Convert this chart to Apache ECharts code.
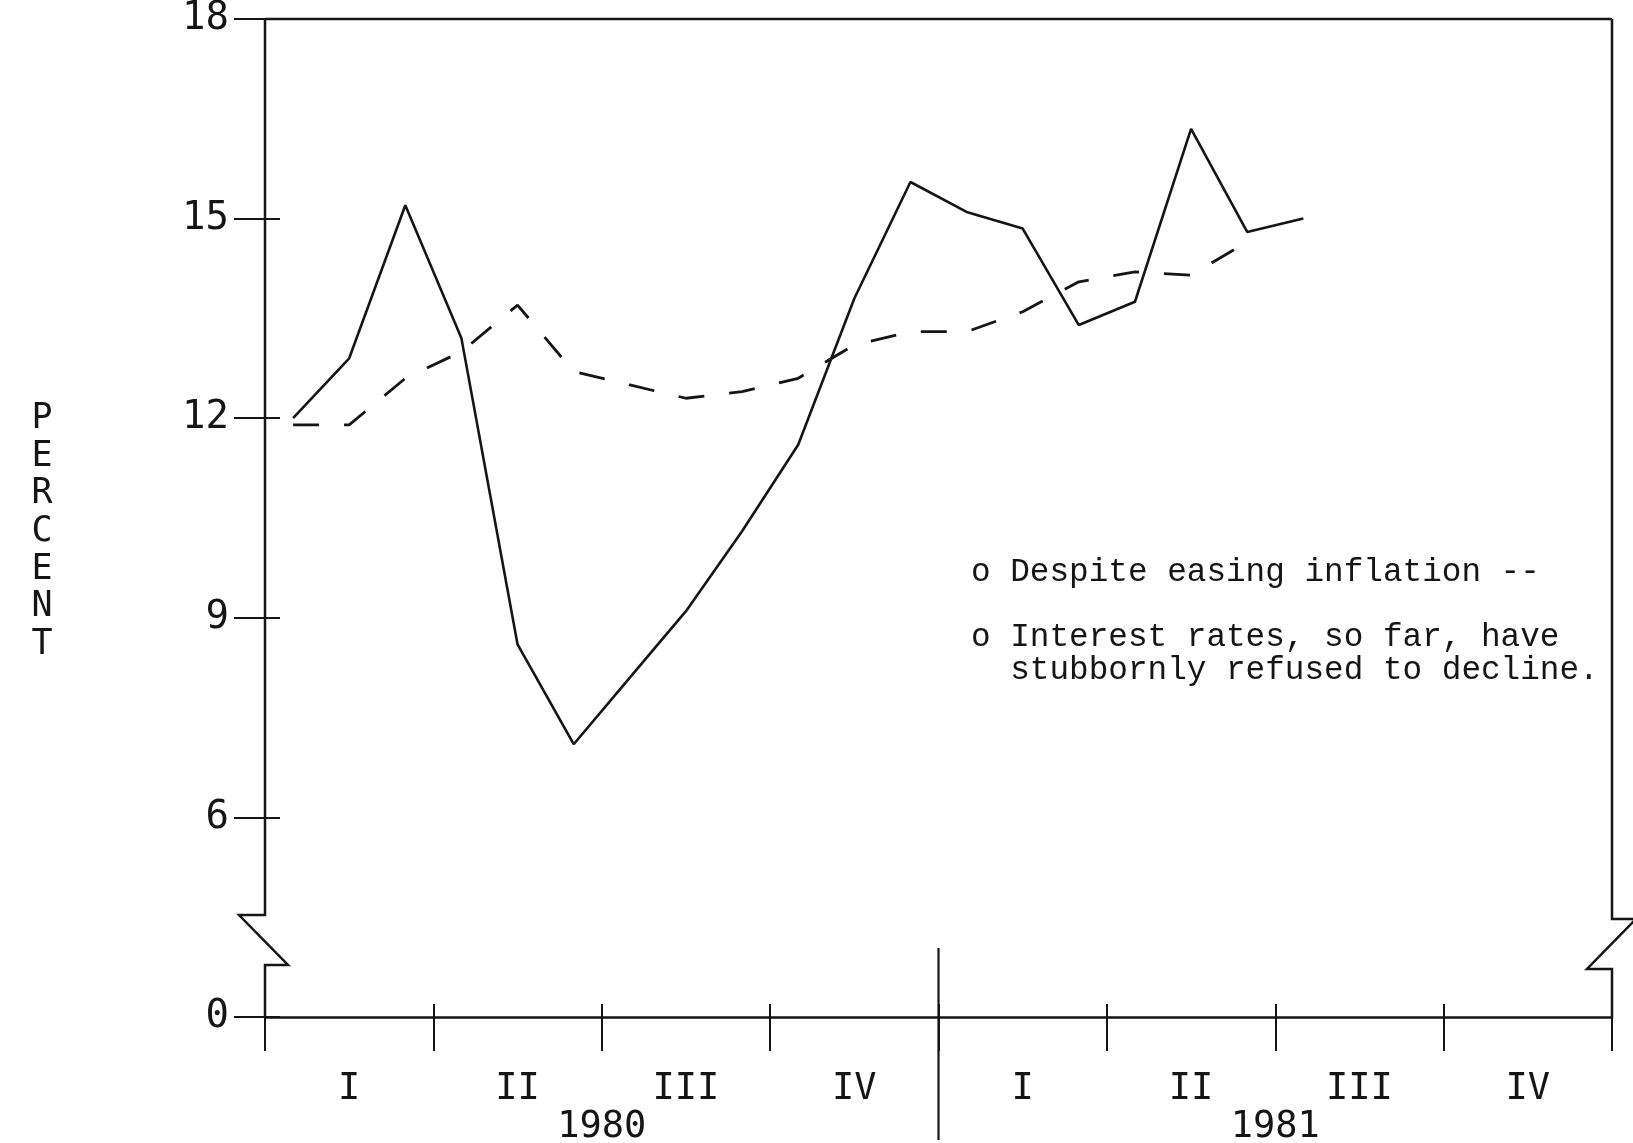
<!DOCTYPE html>
<html>
<head>
<meta charset="utf-8">
<title>Percent 1980-1981</title>
<script src="https://cdn.jsdelivr.net/npm/echarts@6/dist/echarts.min.js"></script>
<style>
    html, body { margin: 0; padding: 0; background: #fff; }
    #chart { width: 1633px; height: 1143px; }
</style>
</head>
<body>
<div id="chart"></div>
<script>
// monthly categories, Jan 1980 .. Dec 1981
const months = [
    'Jan 1980', 'Feb 1980', 'Mar 1980', 'Apr 1980', 'May 1980', 'Jun 1980',
    'Jul 1980', 'Aug 1980', 'Sep 1980', 'Oct 1980', 'Nov 1980', 'Dec 1980',
    'Jan 1981', 'Feb 1981', 'Mar 1981', 'Apr 1981', 'May 1981', 'Jun 1981',
    'Jul 1981', 'Aug 1981', 'Sep 1981', 'Oct 1981', 'Nov 1981', 'Dec 1981'
]
const quarters = ['I', 'II', 'III', 'IV', 'I', 'II', 'III', 'IV']
const years = ['1980', '1981']

// solid line: interest rates (Jan 80 - Jul 81)
const rateValues = [12.0, 12.9, 15.2, 13.2, 8.6, 7.1, 8.1, 9.1, 10.3, 11.6, 13.8, 15.55,
    15.1, 14.85, 13.4, 13.75, 16.35, 14.8, 15.0]
// dashed line: inflation (Jan 80 - Jun 81)
const inflationValues = [11.9, 11.9, 12.6, 13.0, 13.7, 12.7, 12.5, 12.3, 12.4, 12.6, 13.1, 13.3,
    13.3, 13.6, 14.05, 14.2, 14.15, 14.65]

// y axis is broken: the bottom tick (value 3 on the scale) is labelled 0
const yTicks = [3, 6, 9, 12, 15, 18]
const yTickText = ['0', '6', '9', '12', '15', '18']
const yTitle = 'PERCENT'

const notes = [
    'o Despite easing inflation --',
    'o Interest rates, so far, have\n  stubbornly refused to decline.'
]

const ink = '#151515'
const plotFont = 'DejaVu Sans Mono'
const noteFont = '32.7px "Courier New", "Liberation Mono", monospace'
const grid = { left: 265, right: 21, top: 19, bottom: 126, outerBoundsMode: 'none' }

const chartDom = document.getElementById('chart')
const myChart = echarts.init(chartDom)

const option = {
    animation: false,
    backgroundColor: '#fff',
    grid: grid,
    xAxis: [
        // data axis (months, hidden)
        { type: 'category', data: months, boundaryGap: true, show: false },
        // quarter labels + ticks below the base line
        {
            type: 'category', data: quarters, position: 'bottom', boundaryGap: true,
            axisLine: { show: true, lineStyle: { color: ink, width: 2.5 } },
            axisTick: { show: true, interval: 0, length: 34, lineStyle: { color: ink, width: 2 } },
            axisLabel: { interval: 0, margin: 54, color: ink, fontFamily: plotFont, fontSize: 37, lineHeight: 37 },
            splitLine: { show: false }
        },
        // quarter ticks above the base line
        {
            type: 'category', data: quarters, position: 'bottom', boundaryGap: true,
            axisLine: { show: false },
            axisTick: { show: true, inside: true, interval: 0, length: 13, lineStyle: { color: ink, width: 2 } },
            axisLabel: { show: false },
            splitLine: { show: false }
        },
        // year labels
        {
            type: 'category', data: years, position: 'bottom', boundaryGap: true,
            axisLine: { show: false },
            axisTick: { show: false },
            axisLabel: { interval: 0, margin: 92, color: ink, fontFamily: plotFont, fontSize: 37, lineHeight: 37 },
            splitLine: { show: false }
        }
    ],
    yAxis: [
        {
            type: 'value', min: 3, max: 18, interval: 3, position: 'left',
            axisLine: { show: false },
            axisTick: { show: true, length: 31, lineStyle: { color: ink, width: 2 } },
            axisLabel: {
                margin: 36, color: ink, fontFamily: plotFont, fontSize: 39,
                formatter: function (v) {
                    const i = yTicks.indexOf(v)
                    return i >= 0 ? yTickText[i] : ''
                }
            },
            splitLine: { show: false }
        },
        {
            type: 'value', min: 3, max: 18, interval: 3, position: 'left',
            axisLine: { show: false },
            axisTick: { show: true, inside: true, length: 15, lineStyle: { color: ink, width: 2 } },
            axisLabel: { show: false },
            splitLine: { show: false }
        }
    ],
    series: [
        {
            name: 'Interest rates',
            type: 'line',
            xAxisIndex: 0, yAxisIndex: 0,
            data: rateValues,
            symbol: 'none',
            lineStyle: { color: ink, width: 2.6, type: 'solid' },
            z: 3
        },
        {
            name: 'Inflation',
            type: 'line',
            xAxisIndex: 0, yAxisIndex: 0,
            data: inflationValues,
            symbol: 'none',
            lineStyle: { color: ink, width: 2.8, type: [26, 25] },
            z: 3
        }
    ]
}
myChart.setOption(option)

// frame, axis breaks, year divider, axis title and notes
function drawDecor() {
    const w = myChart.getWidth()
    const xL = grid.left
    const xR = w - grid.right
    const xMid = (xL + xR) / 2
    const yTop = myChart.convertToPixel({ yAxisIndex: 0 }, 18)
    const yBase = myChart.convertToPixel({ yAxisIndex: 0 }, 3)
    const frameStyle = { stroke: ink, lineWidth: 2.5, fill: null }

    myChart.setOption({
        graphic: [
            { type: 'line', shape: { x1: xL, y1: yTop, x2: xR, y2: yTop }, style: frameStyle },
            {
                type: 'polyline',
                shape: { points: [[xL, yTop], [xL, yBase - 102], [xL - 26, yBase - 102], [xL + 23, yBase - 52], [xL, yBase - 52], [xL, yBase]] },
                style: frameStyle
            },
            {
                type: 'polyline',
                shape: { points: [[xR, yTop], [xR, yBase - 98], [xR + 24, yBase - 98], [xR - 25, yBase - 48], [xR, yBase - 48], [xR, yBase]] },
                style: frameStyle
            },
            { type: 'line', shape: { x1: xMid, y1: yBase - 69, x2: xMid, y2: yBase + 123 }, style: { stroke: ink, lineWidth: 2.2 } },
            {
                type: 'text', x: 42, y: 532,
                style: {
                    text: yTitle.split('').join('\n'), fill: ink,
                    font: '35px "DejaVu Sans Mono"', lineHeight: 37.7,
                    align: 'center', verticalAlign: 'middle'
                }
            },
            {
                type: 'text', left: 971, top: 556,
                style: { text: notes[0], fill: ink, font: noteFont }
            },
            {
                type: 'text', left: 971, top: 621,
                style: { text: notes[1], fill: ink, font: noteFont, lineHeight: 33 }
            }
        ]
    })
}
drawDecor()

window.addEventListener('resize', () => {
    myChart.resize()
    drawDecor()
})
</script>
</body>
</html>
